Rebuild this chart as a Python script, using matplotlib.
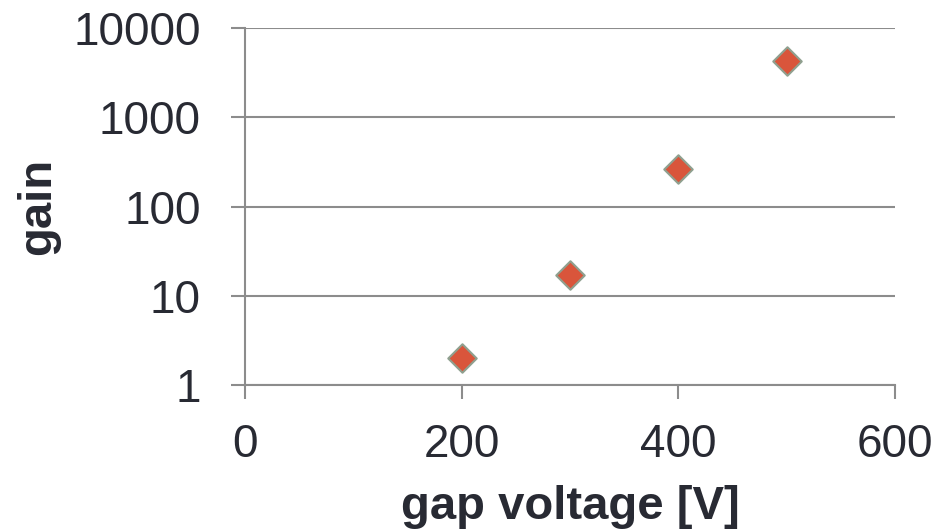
import matplotlib
matplotlib.use("Agg")
import matplotlib.pyplot as plt
from matplotlib.ticker import FixedLocator, NullLocator

plt.rcParams['font.family'] = ['Liberation Sans', 'DejaVu Sans']

# data
gap_voltage = [200, 300, 400, 500]
gain = [2.0, 17, 260, 4300]

x_ticks = [0, 200, 400, 600]
y_ticks = [1, 10, 100, 1000, 10000]
y_labels = ['1', '10', '100', '1000', '10000']

TEXT = '#282a33'
GRID = '#8c8c8c'

fig = plt.figure(figsize=(9.43, 5.32), dpi=100)
ax = fig.add_axes([0.26, 0.2763, 0.689, 0.671])

ax.scatter(gap_voltage, gain, marker='D', s=14.5 ** 2,
           facecolor='#d9553b', edgecolor='#8fa08f', linewidth=1.5, zorder=3)

ax.set_yscale('log')
ax.set_xlim(0, 600)
ax.set_ylim(1, 10000)
ax.xaxis.set_major_locator(FixedLocator(x_ticks))
ax.yaxis.set_major_locator(FixedLocator(y_ticks))
ax.yaxis.set_minor_locator(NullLocator())
ax.set_yticklabels(y_labels)

ax.grid(axis='y', color=GRID, linewidth=1.5)
ax.set_axisbelow(True)
for side in ['top', 'right']:
    ax.spines[side].set_visible(False)
for side in ['left', 'bottom']:
    ax.spines[side].set_color(GRID)
    ax.spines[side].set_linewidth(1.5)

ax.tick_params(axis='both', which='major', direction='out', length=10,
               width=1.5, color=GRID, labelsize=33, labelcolor=TEXT)
ax.tick_params(axis='x', pad=17)
ax.tick_params(axis='y', pad=22)

ax.set_xlabel('gap voltage [V]', fontsize=34, fontweight='bold', color=TEXT)
ax.set_ylabel('gain', fontsize=34, fontweight='bold', color=TEXT)
ax.xaxis.set_label_coords(0.5, -0.28)
ax.yaxis.set_label_coords(-0.285, 0.5)

fig.savefig('out.png', dpi=100, facecolor='white')
